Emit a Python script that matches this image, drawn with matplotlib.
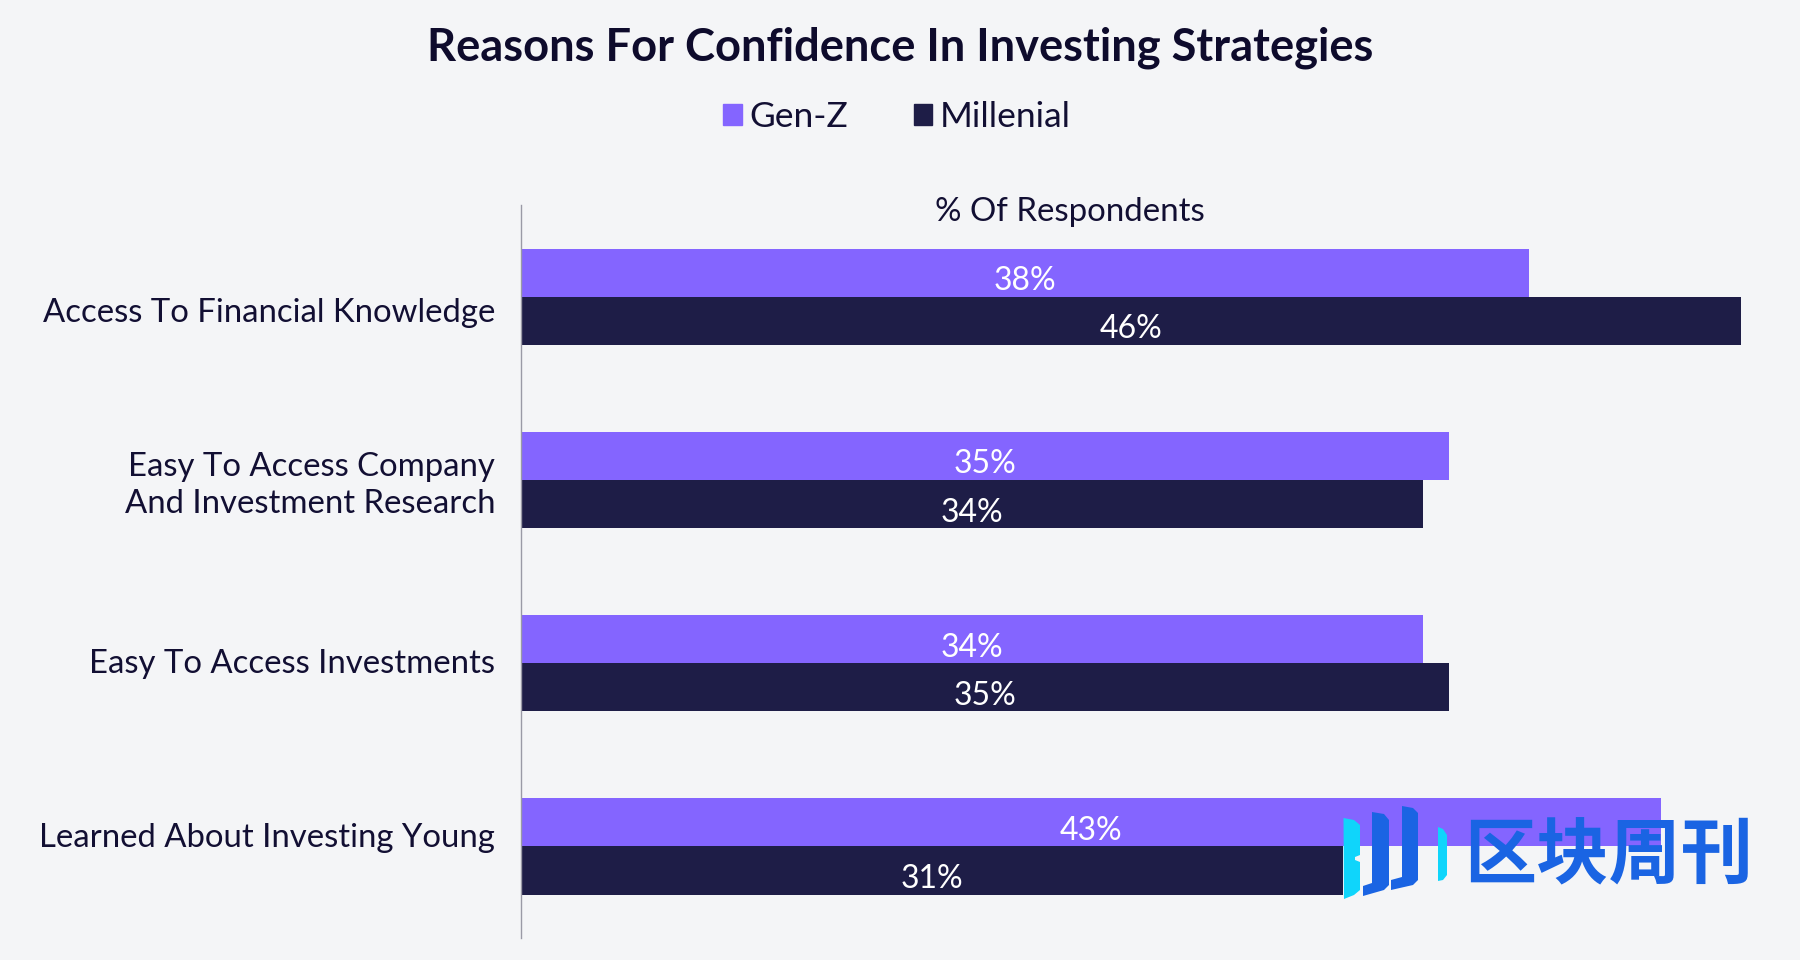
"""Reasons for confidence in investing strategies, Gen-Z vs Millenial."""
import matplotlib as mpl
mpl.use("Agg")
import matplotlib.pyplot as plt
from matplotlib.patches import Patch, Polygon
import numpy as np

categories = [
    "Access To Financial Knowledge",
    "Easy To Access Company\nAnd Investment Research",
    "Easy To Access Investments",
    "Learned About Investing Young",
]
gen_z = [38, 35, 34, 43]
millenial = [46, 34, 35, 31]

PURPLE = "#8465ff"
NAVY = "#1e1d47"
INK = "#120f33"
BG = "#f4f5f7"
LOGO_BLUE = "#1a64e3"
LOGO_CYAN = "#0fd5fb"

W, H = 1800, 960


def px(x, y):
    # pixel position measured from the top left -> figure fraction
    return x / W, 1 - y / H


plt.rcParams.update({"font.family": ["Lato", "DejaVu Sans"], "font.size": 23})

fig = plt.figure(figsize=(18, 9.6), dpi=100, facecolor=BG)
ax = fig.add_axes([521 / W, 1 - 938 / H, (1741 - 521) / W, (938 - 205.5) / H])
ax.set_facecolor("none")

y = np.arange(len(categories))
bar_h = 0.2625
ax.barh(y - bar_h / 2, gen_z, height=bar_h, color=PURPLE)
ax.barh(y + bar_h / 2, millenial, height=bar_h, color=NAVY)

for i in y:
    ax.annotate(f"{gen_z[i]}%", (gen_z[i] / 2, i - bar_h / 2), xytext=(0, -6),
                textcoords="offset points", ha="center", va="center", color="white")
    ax.annotate(f"{millenial[i]}%", (millenial[i] / 2, i + bar_h / 2), xytext=(0, -6),
                textcoords="offset points", ha="center", va="center", color="white")

ax.set_xlim(0, 46)
ax.set_ylim(3.5, -0.5)
ax.set_xticks([])
# category labels do not sit exactly on the bar group centres in the original
ax.set_yticks([0.07, 0.995, 1.99, 2.94], categories, color=INK, linespacing=1.27)
ax.tick_params(axis="y", length=0, pad=18.7, labelsize=23.7)
for side in ("top", "right", "bottom"):
    ax.spines[side].set_visible(False)
ax.spines["left"].set_color("#9a9aa6")
ax.spines["left"].set_linewidth(1.0)

fig.text(*px(900, 48), "Reasons For Confidence In Investing Strategies",
         ha="center", va="center", fontsize=32.6, fontweight="bold", color="#0e0b2c")
fig.text(*px(1070, 212), "% Of Respondents", ha="center", va="center", fontsize=23.8, color=INK)

handles = [Patch(color=PURPLE, label="Gen-Z"), Patch(color=NAVY, label="Millenial")]
fig.legend(handles=handles, loc="center", bbox_to_anchor=px(897, 117), ncol=2, frameon=False,
           fontsize=25.5, handlelength=0.52, handleheight=0.52, handletextpad=0.22,
           columnspacing=1.85, labelcolor=INK)

# watermark
logo = [
    ([(1343.5, 818), (1354, 820), (1360, 825), (1360, 855), (1355, 857), (1355, 860),
      (1360, 862), (1360, 890), (1354, 895), (1344, 899)], LOGO_CYAN),
    ([(1372, 812), (1384, 814), (1389, 820), (1389, 885), (1384, 890), (1363, 896),
      (1363, 886), (1372, 883)], LOGO_BLUE),
    ([(1402, 806), (1413, 808), (1418, 813), (1418, 880), (1413, 885), (1391, 890),
      (1391, 880), (1402, 877)], LOGO_BLUE),
    ([(1438, 827), (1443, 829), (1447, 835), (1447, 875), (1443, 880), (1438, 881)], LOGO_CYAN),
]
for pts, colour in logo:
    fig.add_artist(Polygon([px(*p) for p in pts], closed=True, transform=fig.transFigure,
                           facecolor=colour, edgecolor="none"))
fig.text(*px(1609, 857), "区块周刊", ha="center", va="center", fontsize=52, fontweight="bold",
         color=LOGO_BLUE, family=["Noto Sans CJK SC", "DejaVu Sans"])

fig.savefig("out.png", dpi=100, facecolor=BG)
